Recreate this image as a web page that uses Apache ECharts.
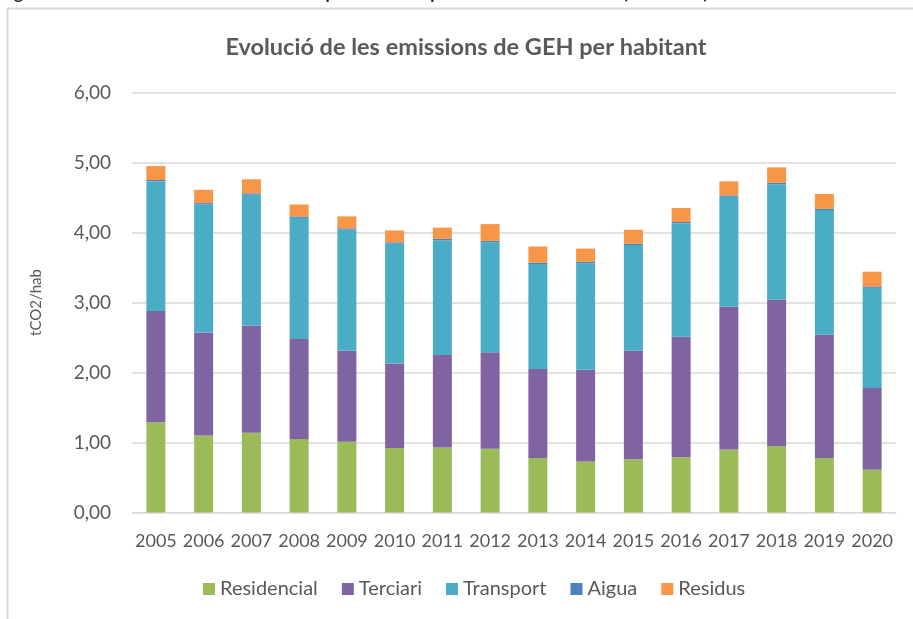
<!DOCTYPE html>
<html>
<head>
    <meta charset="utf-8">
    <title>GEH per habitant</title>
    <script src="https://cdn.jsdelivr.net/npm/echarts@6/dist/echarts.min.js"></script>
    <style>
        body { margin: 0; background: #fff; }
        #main { width: 913px; height: 619px; }
    </style>
</head>
<body>
    <div id="main"></div>
    <script type="text/javascript">
        // dades llegides del gràfic (tCO2/hab)
        var anys = ['2005', '2006', '2007', '2008', '2009', '2010', '2011', '2012',
                    '2013', '2014', '2015', '2016', '2017', '2018', '2019', '2020'];
        var residencial = [1.29, 1.10, 1.14, 1.05, 1.01, 0.92, 0.93, 0.91, 0.78, 0.73, 0.76, 0.79, 0.90, 0.95, 0.78, 0.61];
        var terciari    = [1.59, 1.47, 1.53, 1.43, 1.30, 1.21, 1.32, 1.38, 1.27, 1.31, 1.55, 1.72, 2.04, 2.09, 1.76, 1.17];
        var transport   = [1.85, 1.83, 1.87, 1.73, 1.73, 1.71, 1.64, 1.57, 1.50, 1.52, 1.51, 1.62, 1.57, 1.65, 1.78, 1.43];
        var aigua       = [0.02, 0.02, 0.02, 0.02, 0.02, 0.02, 0.02, 0.02, 0.02, 0.02, 0.02, 0.02, 0.02, 0.02, 0.02, 0.02];
        var residus     = [0.20, 0.19, 0.20, 0.17, 0.17, 0.17, 0.16, 0.24, 0.23, 0.19, 0.20, 0.20, 0.20, 0.22, 0.21, 0.21];
        var yTicks = [0, 1, 2, 3, 4, 5, 6];

        var txt = '#595959';
        var font = 'Lato, "Open Sans", sans-serif';

        function serie(nom, dades, color) {
            return {
                name: nom,
                type: 'bar',
                stack: 'total',
                barWidth: 19,
                data: dades,
                itemStyle: { color: color },
                emphasis: { disabled: true }
            };
        }

        var myChart = echarts.init(document.getElementById('main'));
        myChart.setOption({
            animation: false,
            textStyle: { fontFamily: font },
            title: {
                text: 'Evolució de les emissions de GEH per habitant',
                left: 461,
                textAlign: 'center',
                top: 30,
                textStyle: { color: txt, fontSize: 23.5, fontWeight: 'bold', fontFamily: font }
            },
            graphic: [
                {
                    type: 'text', left: 0, top: -15,
                    style: {
                        text: 'Figura 4. Evolució de les emissions de GEH per habitant i per sector a l\u2019àmbit PAES (tCO2/hab)',
                        fill: '#222', font: 'bold 17px ' + font
                    }
                },
                {
                    type: 'polyline', silent: true,
                    shape: { points: [[7.5, 619], [7.5, 8.5], [913, 8.5]] },
                    style: { stroke: '#d9d9d9', lineWidth: 2, fill: null }
                }
            ],
            legend: {
                bottom: 15,
                left: 198,
                itemWidth: 12,
                itemHeight: 12,
                itemGap: 24,
                icon: 'rect',
                textStyle: { color: txt, fontSize: 20, fontFamily: font },
                data: ['Residencial', 'Terciari', 'Transport', 'Aigua', 'Residus']
            },
            grid: { left: 132, right: 17, top: 92.5, bottom: 106.5, containLabel: false },
            xAxis: {
                type: 'category',
                data: anys,
                axisLine: { lineStyle: { color: '#d9d9d9', width: 1 } },
                axisTick: { show: false },
                axisLabel: {
                    color: txt, fontSize: 18, margin: 20, fontFamily: font,
                    interval: 0, hideOverlap: false
                }
            },
            yAxis: {
                type: 'value',
                min: yTicks[0],
                max: yTicks[yTicks.length - 1],
                interval: 1,
                name: 'tCO2/hab',
                nameLocation: 'middle',
                nameGap: 88,
                nameTextStyle: { color: txt, fontSize: 15, fontFamily: font },
                axisLine: { show: false },
                axisTick: { show: false },
                splitLine: { lineStyle: { color: '#d9d9d9', width: 1.5 } },
                axisLabel: {
                    color: txt, fontSize: 19, margin: 21, fontFamily: font,
                    formatter: function (v) { return v.toFixed(2).replace('.', ','); }
                }
            },
            series: [
                serie('Residencial', residencial, '#9BBB59'),
                serie('Terciari', terciari, '#8064A2'),
                serie('Transport', transport, '#4BACC6'),
                serie('Aigua', aigua, '#4F81BD'),
                serie('Residus', residus, '#F79646')
            ]
        });
    </script>
</body>
</html>
